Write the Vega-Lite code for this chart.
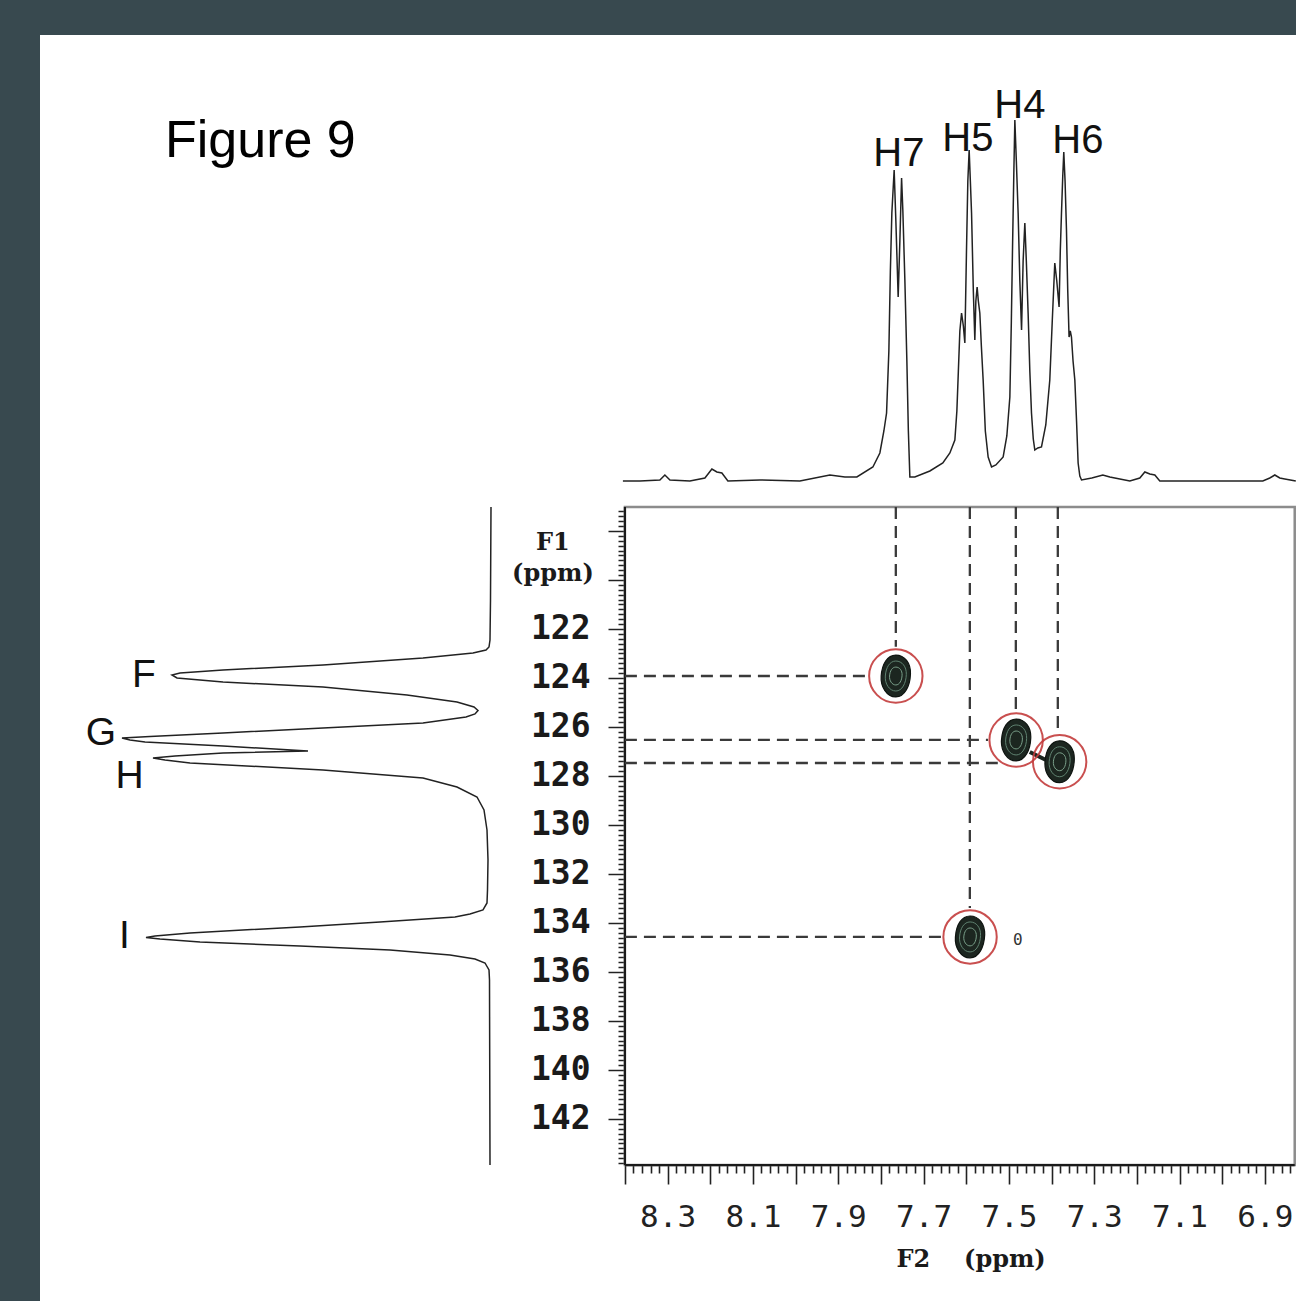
{
  "$schema": "https://vega.github.io/schema/vega-lite/v6.json",
  "width": 1256,
  "height": 1266,
  "autosize": {"type": "none"},
  "padding": {"left": 40, "top": 35, "right": 0, "bottom": 0},
  "background": "#38494f",
  "view": {"fill": "white", "stroke": null},
  "datasets": {
    "frame": [{"f2a": 8.4, "f2b": 6.83, "f1a": 117.02, "f1b": 143.88}],
    "edges": [
      {"f2a": 8.4, "f2b": 8.4, "f1a": 117.02, "f1b": 143.88},
      {"f2a": 8.4, "f2b": 6.83, "f1a": 143.88, "f1b": 143.88}
    ],
    "dashes": [
      {"f2a": 7.765, "f2b": 7.765, "f1a": 117.02, "f1b": 122.73},
      {"f2a": 7.5915, "f2b": 7.5915, "f1a": 117.02, "f1b": 133.39},
      {"f2a": 7.4837, "f2b": 7.4837, "f1a": 117.02, "f1b": 125.35},
      {"f2a": 7.3853, "f2b": 7.3853, "f1a": 117.02, "f1b": 126.24},
      {"f2a": 8.4, "f2b": 7.833, "f1a": 123.92, "f1b": 123.92},
      {"f2a": 8.4, "f2b": 7.549, "f1a": 126.53, "f1b": 126.53},
      {"f2a": 8.4, "f2b": 7.526, "f1a": 127.47, "f1b": 127.47},
      {"f2a": 8.4, "f2b": 7.659, "f1a": 134.57, "f1b": 134.57}
    ],
    "bridge": [{"f2a": 7.451, "f2b": 7.413, "f1a": 127.02, "f1b": 127.35}],
    "peaks": [
      {"label": "H7", "f2": 7.765, "f1": 123.92},
      {"label": "H5", "f2": 7.591, "f1": 134.57},
      {"label": "H4", "f2": 7.483, "f1": 126.53},
      {"label": "H6", "f2": 7.381, "f1": 127.42}
    ],
    "zero": [{"label": "0", "f2": 7.479, "f1": 134.69}],
    "top": [
      {"f2": 8.4047, "int": 0}, {"f2": 8.3648, "int": 0}, {"f2": 8.318, "int": 1}, {"f2": 8.3063, "int": 6},
      {"f2": 8.2945, "int": 1}, {"f2": 8.2477, "int": 0}, {"f2": 8.2125, "int": 3}, {"f2": 8.1961, "int": 12},
      {"f2": 8.1844, "int": 9}, {"f2": 8.1727, "int": 8}, {"f2": 8.1586, "int": 0}, {"f2": 8.0836, "int": 1},
      {"f2": 7.9899, "int": 0}, {"f2": 7.9196, "int": 6}, {"f2": 7.8844, "int": 4}, {"f2": 7.8563, "int": 4},
      {"f2": 7.8188, "int": 14}, {"f2": 7.8024, "int": 28}, {"f2": 7.793, "int": 50}, {"f2": 7.7867, "int": 68},
      {"f2": 7.7813, "int": 130}, {"f2": 7.7778, "int": 210}, {"f2": 7.7743, "int": 268}, {"f2": 7.7689, "int": 311},
      {"f2": 7.7649, "int": 260}, {"f2": 7.7595, "int": 184}, {"f2": 7.7555, "int": 240}, {"f2": 7.7515, "int": 303},
      {"f2": 7.7485, "int": 270}, {"f2": 7.7438, "int": 201}, {"f2": 7.7391, "int": 120}, {"f2": 7.7356, "int": 50},
      {"f2": 7.7321, "int": 4}, {"f2": 7.7204, "int": 4}, {"f2": 7.6852, "int": 10}, {"f2": 7.6548, "int": 18},
      {"f2": 7.6383, "int": 28}, {"f2": 7.6266, "int": 41}, {"f2": 7.6219, "int": 70}, {"f2": 7.6184, "int": 110},
      {"f2": 7.6149, "int": 150}, {"f2": 7.6109, "int": 168}, {"f2": 7.6067, "int": 155}, {"f2": 7.6032, "int": 138},
      {"f2": 7.5992, "int": 234}, {"f2": 7.5962, "int": 300}, {"f2": 7.5931, "int": 331}, {"f2": 7.5903, "int": 300},
      {"f2": 7.5875, "int": 268}, {"f2": 7.5833, "int": 190}, {"f2": 7.5798, "int": 141}, {"f2": 7.5774, "int": 180},
      {"f2": 7.5744, "int": 194}, {"f2": 7.5716, "int": 180}, {"f2": 7.5681, "int": 168}, {"f2": 7.5645, "int": 135},
      {"f2": 7.5603, "int": 101}, {"f2": 7.5552, "int": 50}, {"f2": 7.5486, "int": 24}, {"f2": 7.5406, "int": 14},
      {"f2": 7.5305, "int": 16}, {"f2": 7.5134, "int": 24}, {"f2": 7.5048, "int": 45}, {"f2": 7.4977, "int": 84},
      {"f2": 7.4942, "int": 160}, {"f2": 7.4914, "int": 234}, {"f2": 7.4883, "int": 310}, {"f2": 7.486, "int": 361},
      {"f2": 7.4825, "int": 320}, {"f2": 7.4783, "int": 268}, {"f2": 7.4743, "int": 200}, {"f2": 7.4703, "int": 151},
      {"f2": 7.4666, "int": 220}, {"f2": 7.4626, "int": 258}, {"f2": 7.4591, "int": 220}, {"f2": 7.4549, "int": 168},
      {"f2": 7.4509, "int": 110}, {"f2": 7.447, "int": 68}, {"f2": 7.4428, "int": 42}, {"f2": 7.4392, "int": 31},
      {"f2": 7.4322, "int": 33}, {"f2": 7.4236, "int": 34}, {"f2": 7.4135, "int": 56}, {"f2": 7.4041, "int": 101},
      {"f2": 7.3983, "int": 160}, {"f2": 7.3924, "int": 218}, {"f2": 7.3877, "int": 200}, {"f2": 7.3823, "int": 174},
      {"f2": 7.3795, "int": 230}, {"f2": 7.3767, "int": 268}, {"f2": 7.3737, "int": 305}, {"f2": 7.3713, "int": 329},
      {"f2": 7.3683, "int": 300}, {"f2": 7.365, "int": 251}, {"f2": 7.362, "int": 190}, {"f2": 7.3589, "int": 144},
      {"f2": 7.3561, "int": 150}, {"f2": 7.3533, "int": 144}, {"f2": 7.3496, "int": 120}, {"f2": 7.3454, "int": 101},
      {"f2": 7.3414, "int": 60}, {"f2": 7.3377, "int": 18}, {"f2": 7.3337, "int": 5}, {"f2": 7.3297, "int": 1},
      {"f2": 7.3056, "int": 3}, {"f2": 7.2798, "int": 6}, {"f2": 7.2634, "int": 4}, {"f2": 7.2399, "int": 2},
      {"f2": 7.2165, "int": 0}, {"f2": 7.1931, "int": 3}, {"f2": 7.1813, "int": 9}, {"f2": 7.1696, "int": 7},
      {"f2": 7.1579, "int": 6}, {"f2": 7.1462, "int": 0}, {"f2": 7.0524, "int": 0}, {"f2": 6.9587, "int": 0},
      {"f2": 6.9048, "int": 0}, {"f2": 6.8884, "int": 3}, {"f2": 6.8767, "int": 6}, {"f2": 6.865, "int": 3},
      {"f2": 6.8533, "int": 2}, {"f2": 6.8275, "int": 0}
    ],
    "left": [
      {"f1": 117.02, "int": 0}, {"f1": 120.816, "int": 0.5}, {"f1": 122.449, "int": 1}, {"f1": 122.735, "int": 2},
      {"f1": 122.857, "int": 5}, {"f1": 122.98, "int": 18}, {"f1": 123.184, "int": 68}, {"f1": 123.469, "int": 168},
      {"f1": 123.673, "int": 268}, {"f1": 123.796, "int": 311}, {"f1": 123.878, "int": 319}, {"f1": 124.0, "int": 314},
      {"f1": 124.163, "int": 268}, {"f1": 124.367, "int": 168}, {"f1": 124.694, "int": 84}, {"f1": 124.98, "int": 34},
      {"f1": 125.184, "int": 17}, {"f1": 125.327, "int": 13}, {"f1": 125.469, "int": 16}, {"f1": 125.592, "int": 25},
      {"f1": 125.837, "int": 68}, {"f1": 126.041, "int": 168}, {"f1": 126.245, "int": 268}, {"f1": 126.388, "int": 341},
      {"f1": 126.449, "int": 369}, {"f1": 126.531, "int": 361}, {"f1": 126.612, "int": 346}, {"f1": 126.776, "int": 268},
      {"f1": 126.98, "int": 183}, {"f1": 127.061, "int": 268}, {"f1": 127.184, "int": 316}, {"f1": 127.265, "int": 338},
      {"f1": 127.347, "int": 326}, {"f1": 127.469, "int": 301}, {"f1": 127.755, "int": 168}, {"f1": 128.082, "int": 68},
      {"f1": 128.449, "int": 34}, {"f1": 128.857, "int": 14}, {"f1": 129.388, "int": 7}, {"f1": 130.204, "int": 4},
      {"f1": 131.429, "int": 3}, {"f1": 132.653, "int": 3.5}, {"f1": 133.184, "int": 4}, {"f1": 133.469, "int": 8},
      {"f1": 133.633, "int": 21}, {"f1": 133.755, "int": 36}, {"f1": 133.959, "int": 111}, {"f1": 134.163, "int": 191},
      {"f1": 134.408, "int": 301}, {"f1": 134.531, "int": 336}, {"f1": 134.592, "int": 345}, {"f1": 134.653, "int": 331},
      {"f1": 134.776, "int": 291}, {"f1": 134.939, "int": 191}, {"f1": 135.102, "int": 101}, {"f1": 135.306, "int": 41},
      {"f1": 135.469, "int": 16}, {"f1": 135.633, "int": 6}, {"f1": 135.918, "int": 2}, {"f1": 136.327, "int": 1.5},
      {"f1": 143.878, "int": 1}
    ],
    "topLabels": [
      {"label": "H7", "f2": 7.7579, "int": 315},
      {"label": "H5", "f2": 7.5962, "int": 330},
      {"label": "H4", "f2": 7.4743, "int": 363},
      {"label": "H6", "f2": 7.3384, "int": 328}
    ],
    "leftLabels": [
      {"label": "F", "int": 347, "f1": 124.367},
      {"label": "G", "int": 390, "f1": 126.735},
      {"label": "H", "int": 361.5, "f1": 128.49},
      {"label": "I", "int": 366.5, "f1": 135.02}
    ],
    "figTitle": [{"label": "Figure 9", "f2": 9.478, "f1": 102.735}],
    "axisTitles": [
      {"label": "F1", "f2": 8.5687, "f1": 118.776},
      {"label": "(ppm)", "f2": 8.5687, "f1": 120.041},
      {"label": "F2", "f2": 7.7239, "f1": 148.04},
      {"label": "(ppm)", "f2": 7.5094, "f1": 148.04}
    ]
  },
  "layer": [
    {
      "data": {"name": "frame"},
      "mark": {"type": "rect", "fillOpacity": 0, "stroke": "#8c8c8c", "strokeWidth": 2.5},
      "encoding": {
        "x": {
          "field": "f2a", "type": "quantitative",
          "scale": {"domain": [6.827, 9.771], "reverse": true, "zero": false, "nice": false},
          "axis": {
            "orient": "bottom", "offset": -136, "domain": false, "grid": false, "title": null,
            "values": [8.4,8.38,8.36,8.34,8.32,8.3,8.28,8.26,8.24,8.22,8.2,8.18,8.16,8.14,8.12,8.1,8.08,8.06,8.04,8.02,8.0,7.98,7.96,7.94,7.92,7.9,7.88,7.86,7.84,7.82,7.8,7.78,7.76,7.74,7.72,7.7,7.68,7.66,7.64,7.62,7.6,7.58,7.56,7.54,7.52,7.5,7.48,7.46,7.44,7.42,7.4,7.38,7.36,7.34,7.32,7.3,7.28,7.26,7.24,7.22,7.2,7.18,7.16,7.14,7.12,7.1,7.08,7.06,7.04,7.02,7.0,6.98,6.96,6.94,6.92,6.9,6.88,6.86,6.84],
            "tickSize": {"condition": {"test": "abs(datum.value*10 - round(datum.value*10)) < 0.01", "value": 19}, "value": 8},
            "tickWidth": 1.6, "tickColor": "#222",
            "labelExpr": "(abs(datum.value*10 - round(datum.value*10)) < 0.01 && round(datum.value*10) % 2 == 1) ? format(datum.value, '.1f') : ''",
            "labelFont": "DejaVu Sans Mono", "labelFontSize": 31, "labelColor": "#222",
            "labelPadding": 18, "labelOverlap": false, "labelFlush": false, "labelBaseline": "top"
          }
        },
        "x2": {"field": "f2b"},
        "y": {
          "field": "f1a", "type": "quantitative",
          "scale": {"domain": [97.755, 149.43], "reverse": true, "zero": false, "nice": false},
          "axis": {
            "orient": "left", "offset": -585, "domain": false, "grid": false, "title": null,
            "values": [117.2,117.4,117.6,117.8,118,118.2,118.4,118.6,118.8,119,119.2,119.4,119.6,119.8,120,120.2,120.4,120.6,120.8,121,121.2,121.4,121.6,121.8,122,122.2,122.4,122.6,122.8,123,123.2,123.4,123.6,123.8,124,124.2,124.4,124.6,124.8,125,125.2,125.4,125.6,125.8,126,126.2,126.4,126.6,126.8,127,127.2,127.4,127.6,127.8,128,128.2,128.4,128.6,128.8,129,129.2,129.4,129.6,129.8,130,130.2,130.4,130.6,130.8,131,131.2,131.4,131.6,131.8,132,132.2,132.4,132.6,132.8,133,133.2,133.4,133.6,133.8,134,134.2,134.4,134.6,134.8,135,135.2,135.4,135.6,135.8,136,136.2,136.4,136.6,136.8,137,137.2,137.4,137.6,137.8,138,138.2,138.4,138.6,138.8,139,139.2,139.4,139.6,139.8,140,140.2,140.4,140.6,140.8,141,141.2,141.4,141.6,141.8,142,142.2,142.4,142.6,142.8,143,143.2,143.4,143.6,143.8],
            "tickSize": {"condition": {"test": "abs(datum.value/2 - round(datum.value/2)) < 0.01", "value": 17}, "value": 7},
            "tickWidth": 1.5, "tickColor": "#222",
            "labelExpr": "(abs(datum.value/2 - round(datum.value/2)) < 0.01 && datum.value > 121) ? format(datum.value, 'd') : ''",
            "labelFont": "DejaVu Sans Mono", "labelFontSize": 33, "labelFontWeight": "bold", "labelColor": "#1a1a1a",
            "labelPadding": 18, "labelOverlap": false, "labelFlush": false, "labelBaseline": "middle", "labelAlign": "right"
          }
        },
        "y2": {"field": "f1b"}
      }
    },
    {
      "data": {"name": "edges"},
      "mark": {"type": "rule", "stroke": "#1a1a1a", "strokeWidth": 2.2},
      "encoding": {
        "x": {"field": "f2a", "type": "quantitative", "scale": {"domain": [6.827, 9.771], "reverse": true, "zero": false, "nice": false}, "axis": null},
        "x2": {"field": "f2b"},
        "y": {"field": "f1a", "type": "quantitative", "scale": {"domain": [97.755, 149.43], "reverse": true, "zero": false, "nice": false}, "axis": null},
        "y2": {"field": "f1b"}
      }
    },
    {
      "data": {"name": "dashes"},
      "mark": {"type": "rule", "stroke": "#3a3a3a", "strokeWidth": 2.3, "strokeDash": [12, 7]},
      "encoding": {
        "x": {"field": "f2a", "type": "quantitative", "scale": {"domain": [6.827, 9.771], "reverse": true, "zero": false, "nice": false}, "axis": null},
        "x2": {"field": "f2b"},
        "y": {"field": "f1a", "type": "quantitative", "scale": {"domain": [97.755, 149.43], "reverse": true, "zero": false, "nice": false}, "axis": null},
        "y2": {"field": "f1b"}
      }
    },
    {
      "data": {"name": "bridge"},
      "mark": {"type": "rule", "stroke": "#1c2620", "strokeWidth": 4},
      "encoding": {
        "x": {"field": "f2a", "type": "quantitative", "scale": {"domain": [6.827, 9.771], "reverse": true, "zero": false, "nice": false}, "axis": null},
        "x2": {"field": "f2b"},
        "y": {"field": "f1a", "type": "quantitative", "scale": {"domain": [97.755, 149.43], "reverse": true, "zero": false, "nice": false}, "axis": null},
        "y2": {"field": "f1b"}
      }
    },
    {
      "data": {"name": "peaks"},
      "mark": {"type": "point", "shape": "M0,-1C0.42,-1 0.72,-0.62 0.7,-0.1C0.68,0.48 0.42,1 0,1C-0.44,1 -0.74,0.5 -0.7,0C-0.66,-0.58 -0.4,-1 0,-1Z", "size": 1750, "filled": true, "fill": "#1c2620", "stroke": "#0e1410", "strokeWidth": 1.2, "opacity": 1},
      "encoding": {
        "x": {"field": "f2", "type": "quantitative", "scale": {"domain": [6.827, 9.771], "reverse": true, "zero": false, "nice": false}, "axis": null},
        "y": {"field": "f1", "type": "quantitative", "scale": {"domain": [97.755, 149.43], "reverse": true, "zero": false, "nice": false}, "axis": null}
      }
    },
    {
      "data": {"name": "peaks"},
      "mark": {"type": "point", "shape": "M0,-1C0.42,-1 0.72,-0.62 0.7,-0.1C0.68,0.48 0.42,1 0,1C-0.44,1 -0.74,0.5 -0.7,0C-0.66,-0.58 -0.4,-1 0,-1Z", "size": 900, "filled": false, "stroke": "#5f8270", "strokeWidth": 1, "opacity": 1},
      "encoding": {
        "x": {"field": "f2", "type": "quantitative", "scale": {"domain": [6.827, 9.771], "reverse": true, "zero": false, "nice": false}, "axis": null},
        "y": {"field": "f1", "type": "quantitative", "scale": {"domain": [97.755, 149.43], "reverse": true, "zero": false, "nice": false}, "axis": null}
      }
    },
    {
      "data": {"name": "peaks"},
      "mark": {"type": "point", "shape": "M0,-1C0.42,-1 0.72,-0.62 0.7,-0.1C0.68,0.48 0.42,1 0,1C-0.44,1 -0.74,0.5 -0.7,0C-0.66,-0.58 -0.4,-1 0,-1Z", "size": 320, "filled": false, "stroke": "#7aa08a", "strokeWidth": 1, "opacity": 1},
      "encoding": {
        "x": {"field": "f2", "type": "quantitative", "scale": {"domain": [6.827, 9.771], "reverse": true, "zero": false, "nice": false}, "axis": null},
        "y": {"field": "f1", "type": "quantitative", "scale": {"domain": [97.755, 149.43], "reverse": true, "zero": false, "nice": false}, "axis": null}
      }
    },
    {
      "data": {"name": "peaks"},
      "mark": {"type": "point", "shape": "circle", "size": 2850, "filled": false, "stroke": "#c43c3c", "strokeWidth": 2, "opacity": 0.9},
      "encoding": {
        "x": {"field": "f2", "type": "quantitative", "scale": {"domain": [6.827, 9.771], "reverse": true, "zero": false, "nice": false}, "axis": null},
        "y": {"field": "f1", "type": "quantitative", "scale": {"domain": [97.755, 149.43], "reverse": true, "zero": false, "nice": false}, "axis": null}
      }
    },
    {
      "data": {"name": "zero"},
      "mark": {"type": "text", "font": "DejaVu Sans Mono", "fontSize": 16, "color": "#333", "align": "center", "baseline": "middle"},
      "encoding": {
        "x": {"field": "f2", "type": "quantitative", "scale": {"domain": [6.827, 9.771], "reverse": true, "zero": false, "nice": false}, "axis": null},
        "y": {"field": "f1", "type": "quantitative", "scale": {"domain": [97.755, 149.43], "reverse": true, "zero": false, "nice": false}, "axis": null},
        "text": {"field": "label"}
      }
    },
    {
      "data": {"name": "top"},
      "mark": {"type": "line", "stroke": "#222", "strokeWidth": 1.5, "interpolate": "linear"},
      "encoding": {
        "x": {"field": "f2", "type": "quantitative", "scale": {"domain": [6.827, 9.771], "reverse": true, "zero": false, "nice": false}, "axis": null},
        "y": {"field": "int", "type": "quantitative", "scale": {"domain": [-820, 446], "zero": false, "nice": false}, "axis": null},
        "order": {"field": "f2", "type": "quantitative"}
      }
    },
    {
      "data": {"name": "left"},
      "mark": {"type": "line", "stroke": "#222", "strokeWidth": 1.5, "interpolate": "linear"},
      "encoding": {
        "x": {"field": "int", "type": "quantitative", "scale": {"domain": [-805, 451], "reverse": true, "zero": false, "nice": false}, "axis": null},
        "y": {"field": "f1", "type": "quantitative", "scale": {"domain": [97.755, 149.43], "reverse": true, "zero": false, "nice": false}, "axis": null},
        "order": {"field": "f1", "type": "quantitative"}
      }
    },
    {
      "data": {"name": "topLabels"},
      "mark": {"type": "text", "font": "Liberation Sans", "fontSize": 40, "color": "#111", "align": "center", "baseline": "alphabetic"},
      "encoding": {
        "x": {"field": "f2", "type": "quantitative", "scale": {"domain": [6.827, 9.771], "reverse": true, "zero": false, "nice": false}, "axis": null},
        "y": {"field": "int", "type": "quantitative", "scale": {"domain": [-820, 446], "zero": false, "nice": false}, "axis": null},
        "text": {"field": "label"}
      }
    },
    {
      "data": {"name": "leftLabels"},
      "mark": {"type": "text", "font": "Liberation Sans", "fontSize": 39, "color": "#111", "align": "center", "baseline": "alphabetic"},
      "encoding": {
        "x": {"field": "int", "type": "quantitative", "scale": {"domain": [-805, 451], "reverse": true, "zero": false, "nice": false}, "axis": null},
        "y": {"field": "f1", "type": "quantitative", "scale": {"domain": [97.755, 149.43], "reverse": true, "zero": false, "nice": false}, "axis": null},
        "text": {"field": "label"}
      }
    },
    {
      "data": {"name": "figTitle"},
      "mark": {"type": "text", "font": "Liberation Sans", "fontSize": 52, "color": "#000", "align": "left", "baseline": "alphabetic"},
      "encoding": {
        "x": {"field": "f2", "type": "quantitative", "scale": {"domain": [6.827, 9.771], "reverse": true, "zero": false, "nice": false}, "axis": null},
        "y": {"field": "f1", "type": "quantitative", "scale": {"domain": [97.755, 149.43], "reverse": true, "zero": false, "nice": false}, "axis": null},
        "text": {"field": "label"}
      }
    },
    {
      "data": {"name": "axisTitles"},
      "mark": {"type": "text", "font": "DejaVu Serif", "fontWeight": "bold", "fontSize": 24, "color": "#1a1a1a", "align": "center", "baseline": "alphabetic"},
      "encoding": {
        "x": {"field": "f2", "type": "quantitative", "scale": {"domain": [6.827, 9.771], "reverse": true, "zero": false, "nice": false}, "axis": null},
        "y": {"field": "f1", "type": "quantitative", "scale": {"domain": [97.755, 149.43], "reverse": true, "zero": false, "nice": false}, "axis": null},
        "text": {"field": "label"}
      }
    }
  ],
  "resolve": {"scale": {"x": "independent", "y": "independent"}, "axis": {"x": "independent", "y": "independent"}}
}
